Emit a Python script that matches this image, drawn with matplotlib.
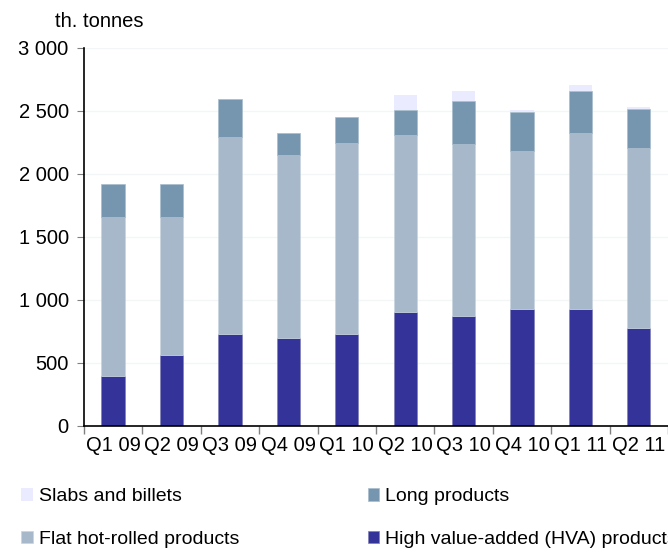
import numpy as np
import matplotlib
matplotlib.use("Agg")
from matplotlib import pyplot as plt
from matplotlib.ticker import FuncFormatter, MultipleLocator

plt.rcParams['font.family'] = ['Liberation Sans', 'DejaVu Sans']

quarters = ['Q1 09', 'Q2 09', 'Q3 09', 'Q4 09', 'Q1 10',
            'Q2 10', 'Q3 10', 'Q4 10', 'Q1 11', 'Q2 11']
hva = [396, 563, 732, 698, 730, 904, 870, 928, 925, 780]
flat = [1261, 1094, 1562, 1453, 1514, 1401, 1366, 1253, 1398, 1424]
long_prod = [262, 262, 301, 170, 206, 201, 339, 311, 333, 312]
slabs = [0, 0, 0, 0, 0, 119, 84, 11, 48, 11]

c_hva = '#333399'
c_flat = '#a6b8ca'
c_long = '#7696b0'
c_slab = '#ebebff'

fig = plt.figure(figsize=(6.68, 5.53), dpi=100)
ax = fig.add_axes([0.1257, 0.2297, 0.8743, 0.6841])

x = np.arange(len(quarters))
w = 0.4
b1 = np.array(hva)
b2 = b1 + np.array(flat)
b3 = b2 + np.array(long_prod)
p_hva = ax.bar(x, hva, w, color=c_hva, edgecolor='#8080b8', linewidth=0.5)
p_flat = ax.bar(x, flat, w, bottom=b1, color=c_flat, edgecolor='#c8d4e0', linewidth=0.5)
p_long = ax.bar(x, long_prod, w, bottom=b2, color=c_long, edgecolor='#a8bccc', linewidth=0.5)
p_slab = ax.bar(x, slabs, w, bottom=b3, color=c_slab, linewidth=0)

ax.set_xlim(-0.5, len(quarters) - 0.5)
ax.set_ylim(0, 3000)
ax.yaxis.set_major_locator(MultipleLocator(500))
ax.yaxis.set_major_formatter(FuncFormatter(lambda v, p: f'{int(v):,}'.replace(',', ' ')))
ax.set_xticks(x)
ax.set_xticklabels(quarters)
ax.set_xticks(np.arange(len(quarters) + 1) - 0.5, minor=True)
ax.tick_params(axis='x', which='major', length=0, pad=7, labelsize=14.5)
ax.tick_params(axis='x', which='minor', length=6, color='#808080', width=1)
ax.tick_params(axis='y', length=5, color='#808080', labelsize=14.5, pad=6)
ax.grid(axis='y', color='#f3f6f6', linewidth=1)
ax.set_axisbelow(True)
for s in ['top', 'right']:
    ax.spines[s].set_visible(False)
ax.spines['left'].set_linewidth(1.2)
ax.spines['bottom'].set_linewidth(1.2)

fig.text(0.148, 0.962, 'th. tonnes', fontsize=14.5, ha='center', va='center')

leg = fig.legend([p_slab, p_flat, p_long, p_hva],
                 ['Slabs and billets', 'Flat hot-rolled products',
                  'Long products', 'High value-added (HVA) products'],
                 ncol=2, loc='upper left', bbox_to_anchor=(0.032, 0.117),
                 frameon=False, fontsize=14, handlelength=0.6, handleheight=0.6,
                 handletextpad=0.3, columnspacing=6.6, labelspacing=1.3,
                 borderaxespad=0, borderpad=0)

fig.savefig('out.png', dpi=100)
